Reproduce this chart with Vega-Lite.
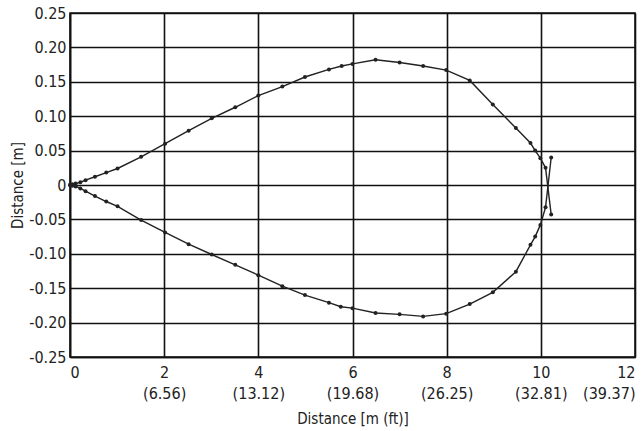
{
  "$schema": "https://vega.github.io/schema/vega-lite/v6.json",
  "width": 565,
  "height": 344,
  "autosize": "none",
  "padding": {"left": 70, "top": 13, "right": 9, "bottom": 74},
  "background": "white",
  "config": {
    "view": {"stroke": "#111", "strokeWidth": 1.5},
    "font": "'DejaVu Sans Condensed', 'Liberation Sans Narrow', 'Roboto', sans-serif",
    "axis": {
      "labelFont": "'DejaVu Sans Condensed', 'Liberation Sans Narrow', 'Roboto', sans-serif",
      "titleFont": "'DejaVu Sans Condensed', 'Liberation Sans Narrow', 'Roboto', sans-serif",
      "labelFontSize": 15,
      "titleFontSize": 15,
      "titleFontWeight": "normal",
      "labelColor": "#222",
      "titleColor": "#222",
      "gridColor": "#111",
      "gridWidth": 1.6,
      "gridOpacity": 1,
      "domainColor": "#111",
      "domainWidth": 1.6,
      "ticks": false
    }
  },
  "data": {"values": [
    {"b":"u","i":0,"x":0,"y":0},
    {"b":"u","i":1,"x":0.05,"y":0.001},
    {"b":"u","i":2,"x":0.12,"y":0.002},
    {"b":"u","i":3,"x":0.22,"y":0.004},
    {"b":"u","i":4,"x":0.33,"y":0.007},
    {"b":"u","i":5,"x":0.53,"y":0.012},
    {"b":"u","i":6,"x":0.77,"y":0.018},
    {"b":"u","i":7,"x":1.01,"y":0.024},
    {"b":"u","i":8,"x":1.51,"y":0.041},
    {"b":"u","i":9,"x":2.02,"y":0.06},
    {"b":"u","i":10,"x":2.52,"y":0.079},
    {"b":"u","i":11,"x":3.01,"y":0.097},
    {"b":"u","i":12,"x":3.51,"y":0.113},
    {"b":"u","i":13,"x":4.0,"y":0.130},
    {"b":"u","i":14,"x":4.51,"y":0.143},
    {"b":"u","i":15,"x":4.99,"y":0.157},
    {"b":"u","i":16,"x":5.5,"y":0.168},
    {"b":"u","i":17,"x":5.77,"y":0.173},
    {"b":"u","i":18,"x":6.0,"y":0.176},
    {"b":"u","i":19,"x":6.49,"y":0.182},
    {"b":"u","i":20,"x":7.0,"y":0.178},
    {"b":"u","i":21,"x":7.5,"y":0.173},
    {"b":"u","i":22,"x":7.99,"y":0.167},
    {"b":"u","i":23,"x":8.49,"y":0.152},
    {"b":"u","i":24,"x":8.98,"y":0.117},
    {"b":"u","i":25,"x":9.47,"y":0.083},
    {"b":"u","i":26,"x":9.78,"y":0.061},
    {"b":"u","i":27,"x":9.88,"y":0.05},
    {"b":"u","i":28,"x":9.99,"y":0.039},
    {"b":"u","i":29,"x":10.1,"y":0.025},
    {"b":"u","i":30,"x":10.22,"y":-0.043},
    {"b":"l","i":0,"x":0,"y":0},
    {"b":"l","i":1,"x":0.05,"y":-0.001},
    {"b":"l","i":2,"x":0.12,"y":-0.002},
    {"b":"l","i":3,"x":0.22,"y":-0.005},
    {"b":"l","i":4,"x":0.33,"y":-0.009},
    {"b":"l","i":5,"x":0.53,"y":-0.016},
    {"b":"l","i":6,"x":0.77,"y":-0.024},
    {"b":"l","i":7,"x":1.01,"y":-0.031},
    {"b":"l","i":8,"x":1.51,"y":-0.051},
    {"b":"l","i":9,"x":2.02,"y":-0.069},
    {"b":"l","i":10,"x":2.52,"y":-0.086},
    {"b":"l","i":11,"x":3.01,"y":-0.101},
    {"b":"l","i":12,"x":3.51,"y":-0.116},
    {"b":"l","i":13,"x":4.0,"y":-0.131},
    {"b":"l","i":14,"x":4.51,"y":-0.147},
    {"b":"l","i":15,"x":4.99,"y":-0.160},
    {"b":"l","i":16,"x":5.5,"y":-0.171},
    {"b":"l","i":17,"x":5.75,"y":-0.177},
    {"b":"l","i":18,"x":6.0,"y":-0.179},
    {"b":"l","i":19,"x":6.49,"y":-0.186},
    {"b":"l","i":20,"x":7.0,"y":-0.188},
    {"b":"l","i":21,"x":7.5,"y":-0.191},
    {"b":"l","i":22,"x":7.99,"y":-0.187},
    {"b":"l","i":23,"x":8.49,"y":-0.173},
    {"b":"l","i":24,"x":8.98,"y":-0.156},
    {"b":"l","i":25,"x":9.47,"y":-0.126},
    {"b":"l","i":26,"x":9.78,"y":-0.087},
    {"b":"l","i":27,"x":9.88,"y":-0.075},
    {"b":"l","i":28,"x":9.99,"y":-0.058},
    {"b":"l","i":29,"x":10.1,"y":-0.0325},
    {"b":"l","i":30,"x":10.22,"y":0.040}
  ]},
  "encoding": {
    "x": {
      "field": "x", "type": "quantitative",
      "scale": {"domain": [0, 12], "nice": false, "zero": false},
      "axis": {
        "values": [0, 2, 4, 6, 8, 10, 12],
        "grid": true,
        "title": "Distance [m (ft)]",
        "titlePadding": 10,
        "labelPadding": 7,
        "labelFontSize": 16,
        "labelLineHeight": 21,
        "labelExpr": "datum.value == 0 ? '0' : datum.value == 2 ? ['2', '(6.56)'] : datum.value == 4 ? ['4', '(13.12)'] : datum.value == 6 ? ['6', '(19.68)'] : datum.value == 8 ? ['8', '(26.25)'] : datum.value == 10 ? ['10', '(32.81)'] : ['12', '(39.37)']"
      }
    },
    "y": {
      "field": "y", "type": "quantitative",
      "scale": {"domain": [-0.25, 0.25], "nice": false, "zero": false},
      "axis": {
        "values": [-0.25, -0.2, -0.15, -0.1, -0.05, 0, 0.05, 0.1, 0.15, 0.2, 0.25],
        "grid": true,
        "title": "Distance [m]",
        "titlePadding": 3,
        "labelPadding": 4,
        "labelFontSize": 16,
        "labelExpr": "datum.value == 0 ? '0' : replace(format(datum.value, '.2f'), '\u2212', '-')"
      }
    },
    "detail": {"field": "b"},
    "order": {"field": "i", "type": "quantitative"}
  },
  "layer": [
    {"mark": {"type": "line", "color": "#222", "strokeWidth": 1.4}},
    {"mark": {"type": "point", "filled": true, "color": "#222", "size": 16, "opacity": 1}}
  ]
}
